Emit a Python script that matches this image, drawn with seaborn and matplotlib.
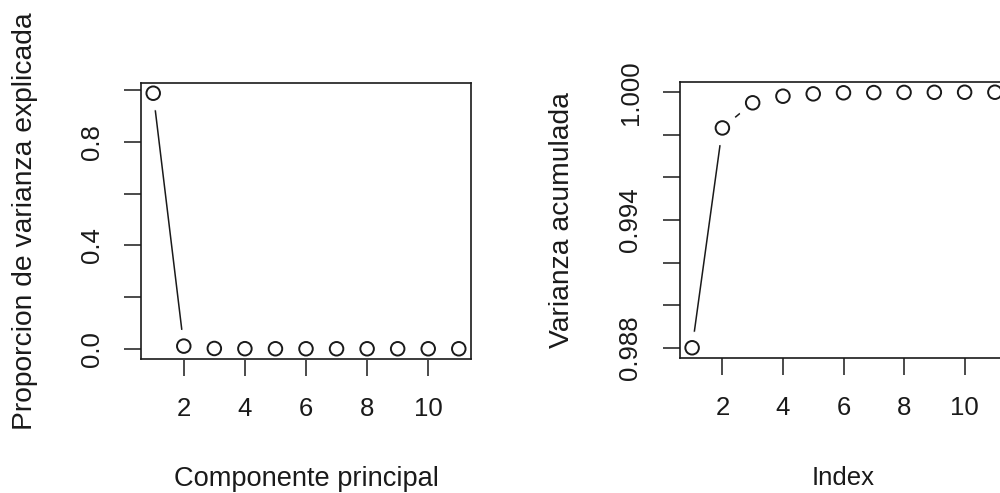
import numpy as np
import pandas as pd
import matplotlib
matplotlib.use("Agg")
import matplotlib.pyplot as plt
import seaborn as sns

# Proportion of variance explained by each principal component
componentes = list(range(1, 12))
proporcion = [0.988003, 0.01032, 0.00118, 0.00031, 0.00011, 0.00005,
              0.00001, 0.000008, 0.000005, 0.000003, 0.000001]
acumulada = list(np.cumsum(proporcion))

left_yticks = [0.0, 0.2, 0.4, 0.6, 0.8, 1.0]
left_yticklabels = ["0.0", "", "0.4", "", "0.8", ""]
right_yticks = [0.988, 0.990, 0.992, 0.994, 0.996, 0.998, 1.000]
right_yticklabels = ["0.988", "", "", "0.994", "", "", "1.000"]
xticks = [2, 4, 6, 8, 10]

sns.set_style("white")
plt.rcParams["font.family"] = ["Liberation Sans", "DejaVu Sans"]

INK = "#1a1a1a"
FS = 18.5

fig = plt.figure(figsize=(10, 4.93), dpi=100)
W, H = 1000, 493


def box(x0, top, w, bottom):
    return [x0 / W, 1 - bottom / H, w / W, (bottom - top) / H]


def r_range(vals):
    lo, hi = min(vals), max(vals)
    pad = 0.04 * (hi - lo)
    return lo - pad, hi + pad


def type_b(ax, x, y):
    df = pd.DataFrame({"x": x, "y": y})
    sns.lineplot(data=df, x="x", y="y", ax=ax, color=INK, lw=1.1,
                 zorder=1.5, estimator=None, sort=False)
    # white discs leave the gap around each point, like a "b" plot
    ax.plot(df["x"], df["y"], ls="none", marker="o", ms=23.5,
            mfc="white", mec="white", mew=0.8, zorder=1.8)
    sns.scatterplot(data=df, x="x", y="y", ax=ax, s=95, marker="o",
                    facecolor="none", edgecolor=INK, linewidth=1.4,
                    zorder=3)


def style(ax, yticks, ylabels, xlabel, ylabel, ylab_x, xlab_fs, ylab_fs):
    ax.set_xlim(0.6, 11.4)
    ax.set_xticks(xticks)
    ax.set_xticklabels([str(t) for t in xticks])
    ax.set_yticks(yticks)
    ax.set_yticklabels(ylabels, rotation=90, va="center")
    ax.tick_params(axis="both", direction="out", length=12, width=1.1,
                   color=INK, labelcolor=INK, labelsize=FS,
                   left=True, bottom=True)
    ax.tick_params(axis="x", pad=15.5)
    ax.tick_params(axis="y", pad=15)
    for s in ax.spines.values():
        s.set_color(INK)
        s.set_linewidth(1.2)
        s.set_zorder(4)
    ax.set_xlabel(xlabel, fontsize=xlab_fs, color=INK)
    ax.set_ylabel(ylabel, fontsize=ylab_fs, color=INK)
    ax.xaxis.set_label_coords(0.5, -0.435)
    ax.xaxis.label.set_va("center")
    ax.yaxis.set_label_coords(ylab_x, 0.5)
    ax.yaxis.label.set_va("center")


ax1 = fig.add_axes(box(141, 83, 330, 359))
type_b(ax1, componentes, proporcion)
ax1.set_ylim(*r_range(proporcion))
style(ax1, left_yticks, left_yticklabels, "Componente principal",
      "Proporcion de varianza explicada", (25 - 141) / 330, 19.6, 20.3)

ax2 = fig.add_axes(box(680, 82, 327, 358))
type_b(ax2, componentes, acumulada)
ax2.set_ylim(*r_range(acumulada))
style(ax2, right_yticks, right_yticklabels, "Index",
      "Varianza acumulada", (562 - 680) / 327, 18.5, 20.3)

fig.savefig("out.png", dpi=100)
